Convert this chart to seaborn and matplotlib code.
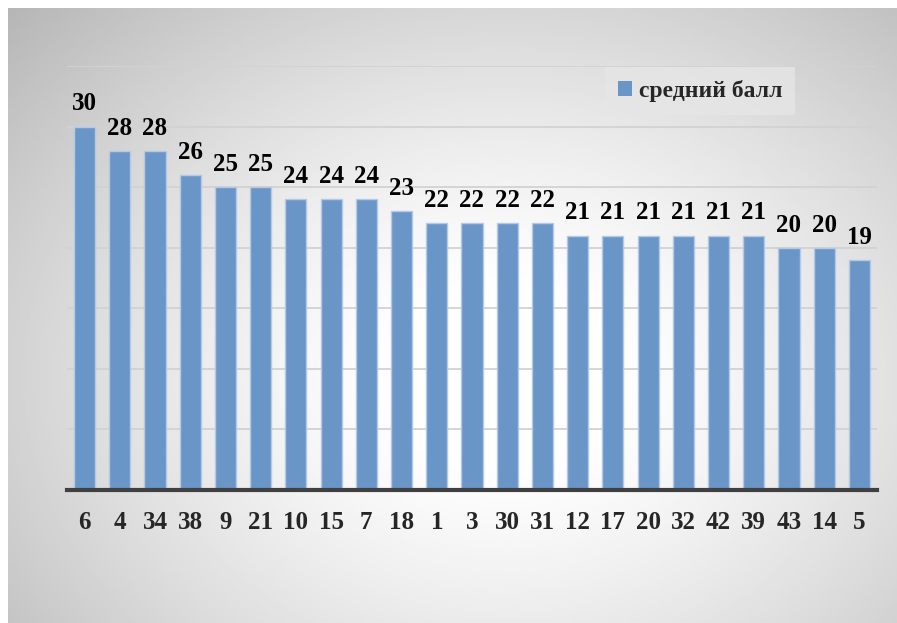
import numpy as np
import pandas as pd
import matplotlib
matplotlib.use('Agg')
import matplotlib.pyplot as plt
import seaborn as sns

# data
schools = ['6', '4', '34', '38', '9', '21', '10', '15', '7', '18', '1', '3',
           '30', '31', '12', '17', '20', '32', '42', '39', '43', '14', '5']
scores = [30, 28, 28, 26, 25, 25, 24, 24, 24, 23, 22, 22,
          22, 22, 21, 21, 21, 21, 21, 21, 20, 20, 19]
series_name = 'средний балл'

df = pd.DataFrame({'school': schools, 'score': scores})

sns.set_style('white')
plt.rcParams['font.family'] = ['Liberation Serif', 'DejaVu Serif']

W, H = 897, 623
fig = plt.figure(figsize=(W / 100, H / 100), dpi=100)
fig.patch.set_facecolor('white')

# gradient background box (light centre, grey edges)
bg = fig.add_axes([8 / W, 0, (W - 8) / W, (H - 8) / H], zorder=0)
yy, xx = np.mgrid[0:1:300j, 0:1:400j]
r = np.sqrt(((xx - 0.56) / 0.7) ** 2 + ((yy - 0.6) / 0.8) ** 2)
grad = 1 - 0.25 * np.clip((r - 0.15) / 0.85, 0, 1.3) ** 1.3
bg.imshow(grad, cmap='gray', vmin=0, vmax=1, aspect='auto', extent=[0, 1, 0, 1], origin='upper')
bg.set_axis_off()

ax = fig.add_axes([67 / W, 1 - 490 / H, 810 / W, 424 / H], zorder=1)
ax.set_facecolor('none')

sns.barplot(data=df, x='school', y='score', order=schools, color='#6a95c7',
            width=0.6, edgecolor='#b3c9e6', linewidth=1.0, saturation=1,
            label=series_name, ax=ax, zorder=3)

ax.set_ylim(0, 35)
ax.set_xlim(-0.5, len(schools) - 0.5)
ax.set_yticks(np.arange(0, 36, 5))
ax.set_yticklabels([])
ax.yaxis.grid(True, color='#d2d2d2', linewidth=1.3)
ax.set_axisbelow(True)
for s in ['left', 'right', 'top']:
    ax.spines[s].set_visible(False)
ax.spines['bottom'].set_color('#404040')
ax.spines['bottom'].set_linewidth(3)
ax.spines['bottom'].set_zorder(4)
ax.tick_params(axis='both', length=0)
ax.tick_params(axis='x', pad=15)
ax.set_xlabel('')
ax.set_ylabel('')
for lab in ax.get_xticklabels():
    lab.set_fontsize(18)
    lab.set_fontweight('bold')

ax.bar_label(ax.containers[0], fmt='%d', padding=8, fontsize=18,
             fontweight='bold', color='black')

leg = ax.legend(loc='center', bbox_to_anchor=(700 / W, 1 - 91 / H),
                bbox_transform=fig.transFigure, frameon=True, fancybox=False,
                handlelength=0.6, handleheight=0.6, handletextpad=0.3,
                borderpad=0.55, prop={'size': 17, 'weight': 'bold'})
leg.get_frame().set_facecolor('#e6e6e6')
leg.get_frame().set_edgecolor('none')
leg.get_frame().set_alpha(0.8)
for h in leg.legend_handles:
    h.set_edgecolor('none')

fig.savefig('out.png', dpi=100)
